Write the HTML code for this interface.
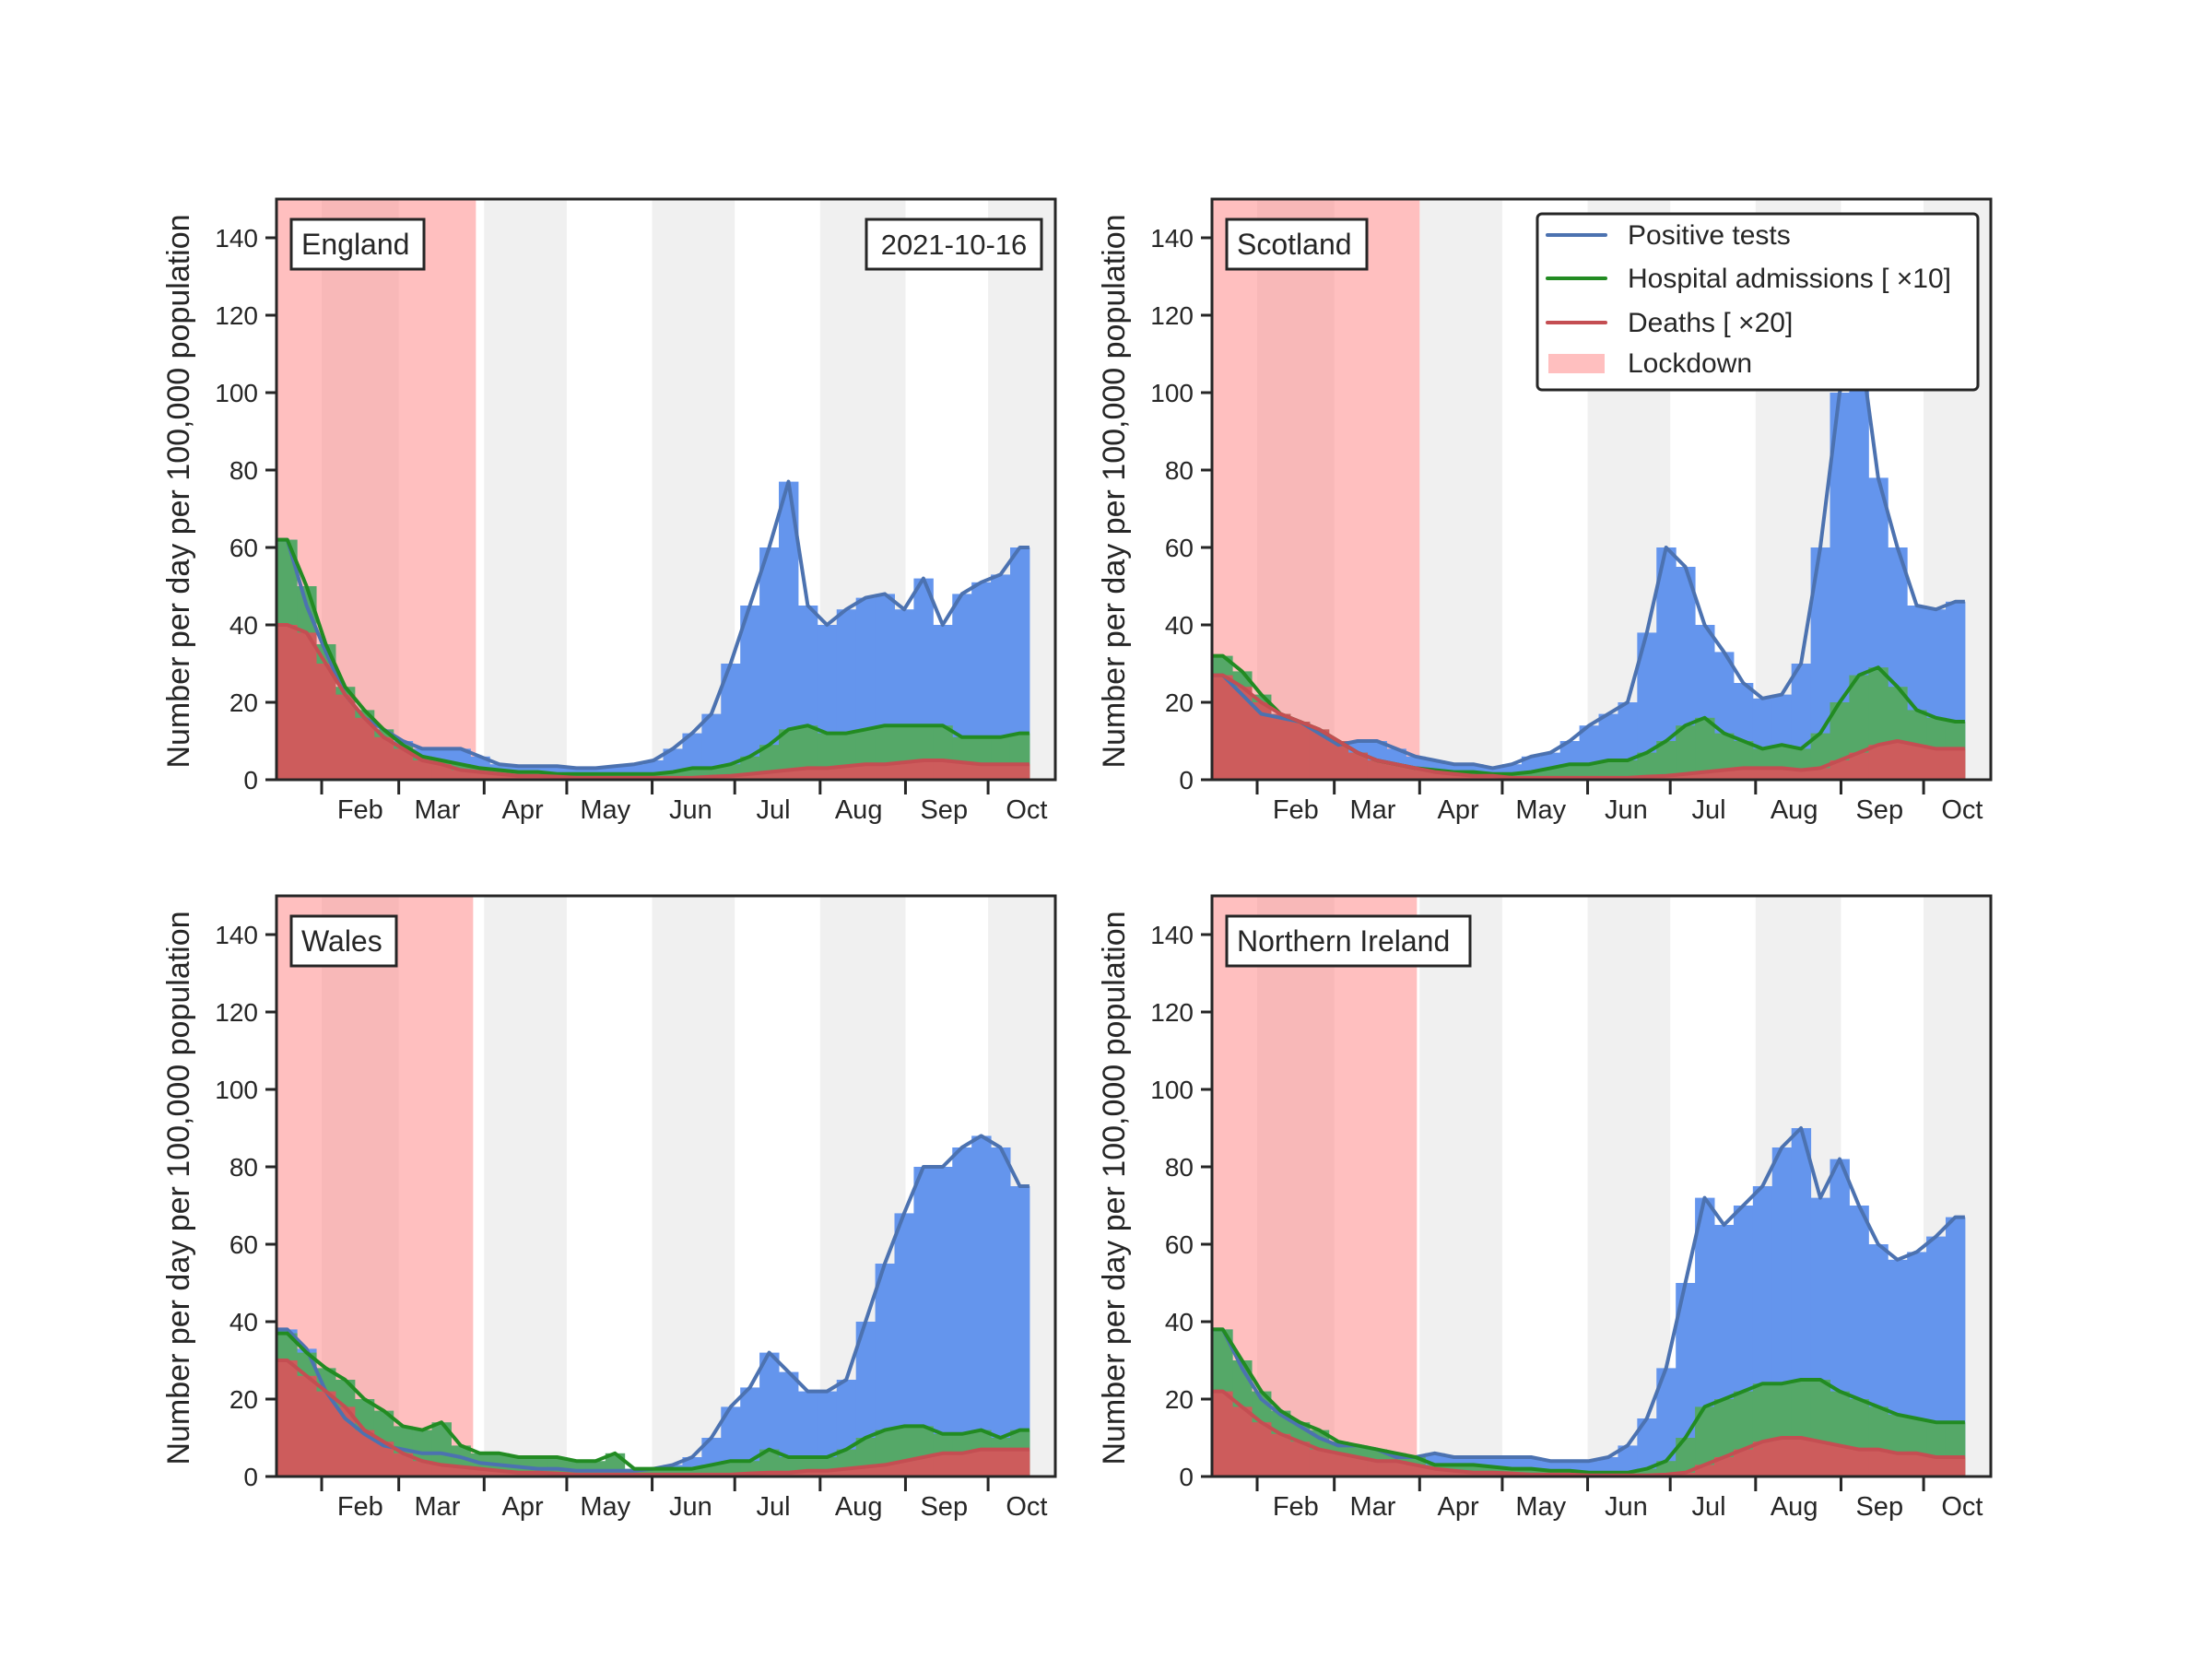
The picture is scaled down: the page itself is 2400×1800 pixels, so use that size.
<!DOCTYPE html>
<html><head><meta charset="utf-8"><style>
html,body{margin:0;padding:0;background:#fff;}
svg{display:block;font-family:"Liberation Sans",Arial,sans-serif;}
</style></head><body>
<svg id="fig" width="2400" height="1800" viewBox="0 0 2400 1800" xmlns="http://www.w3.org/2000/svg"></svg>
<script>
// Weekly values (week centres from 18 Jan 2021, 7-day steps), per 100,000 per day
const weekStartDay = 15; // day-of-year of first data point (15 Jan 2021)
const lastDay = 288;     // 16 Oct 2021
const monthTicks = [31, 59, 90, 120, 151, 181, 212, 243, 273];
const monthLabels = ["Feb","Mar","Apr","May","Jun","Jul","Aug","Sep","Oct"];
const yTicks = [0,20,40,60,80,100,120,140];

const englandTests = [62,45,33,22,16,13,10,8,8,8,6,4,3.5,3.5,3.5,3,3,3.5,4,5,8,12,17,30,45,60,77,45,40,44,47,48,44,52,40,48,51,53,60];
const englandHosp  = [62,50,35,24,18,13,9,6,5,4,3,2.5,2,2,1.5,1.5,1.5,1.5,1.5,1.5,2,3,3,4,6,9,13,14,12,12,13,14,14,14,14,11,11,11,12];
const englandDeaths= [40,38,30,22,16,11,8,5,4,2.5,2,1.5,1,1,0.8,0.5,0.5,0.5,0.5,0.5,0.5,0.5,0.8,1,1.5,2,2.5,3,3,3.5,4,4,4.5,5,5,4.5,4,4,4];

const scotlandTests = [27,22,17,16,15,12,9,10,10,8,6,5,4,4,3,4,6,7,10,14,17,20,38,60,55,40,33,25,21,22,30,60,100,115,78,60,45,44,46];
const scotlandHosp  = [32,28,22,17,15,13,10,7,5,4,3,2.5,2,2,1.5,1.5,2,3,4,4,5,5,7,10,14,16,12,10,8,9,8,12,20,27,29,24,18,16,15];
const scotlandDeaths= [27,24,20,17,15,13,10,7,5,4,3,2,1.5,1,1,0.5,0.5,0.5,0.5,0.5,0.5,0.5,0.8,1,1.5,2,2.5,3,3,3,2.5,3,5,7,9,10,9,8,8];

const walesTests = [38,33,22,15,11,8,7,6,6,5,3.5,3,2.5,2,2,1.5,1.5,1.5,1.5,2,3,5,10,18,23,32,27,22,22,25,40,55,68,80,80,85,88,85,75];
const walesHosp  = [37,32,28,25,20,17,13,12,14,8,6,6,5,5,5,4,4,6,2,2,2,2,3,4,4,7,5,5,5,7,10,12,13,13,11,11,12,10,12];
const walesDeaths= [30,26,22,18,12,9,6,4,3,2.5,2,1.5,1,1,0.8,0.5,0.5,0.5,0.5,0.5,0.5,0.5,0.5,0.5,0.8,1,1,1.5,1.5,2,2.5,3,4,5,6,6,7,7,7];

const niTests = [38,28,20,16,13,10,8,8,7,5,5,6,5,5,5,5,5,4,4,4,5,8,15,28,50,72,65,70,75,85,90,72,82,70,60,56,58,62,67];
const niHosp  = [38,30,22,17,14,12,9,8,7,6,5,3,3,3,2.5,2,2,1.5,1.5,1,1,1,2,4,10,18,20,22,24,24,25,25,22,20,18,16,15,14,14];
const niDeaths= [22,18,14,11,9,7,6,5,4,4,3,2,1.5,1,1,0.8,0.5,0.5,0.5,0.3,0.3,0.3,0.3,0.5,1,3,5,7,9,10,10,9,8,7,7,6,6,5,5];

const regionNames = ["England","Scotland","Wales","Northern Ireland"];
const lockdownEnd = [87, 90, 86, 89];

const NS="http://www.w3.org/2000/svg";
const svg=document.getElementById('fig');
const W=845,H=630,D0=14.6,D1=297.4,YMAX=150;
const panels=[
 {ox:300,oy:216,tests:englandTests,hosp:englandHosp,deaths:englandDeaths,key:"england",labW:144},
 {ox:1315,oy:216,tests:scotlandTests,hosp:scotlandHosp,deaths:scotlandDeaths,key:"scotland",labW:152},
 {ox:300,oy:972,tests:walesTests,hosp:walesHosp,deaths:walesDeaths,key:"wales",labW:114},
 {ox:1315,oy:972,tests:niTests,hosp:niHosp,deaths:niDeaths,key:"northern-ireland",labW:264}
];
function mk(tag,attrs,parent){const e=document.createElementNS(NS,tag);for(const k in attrs)e.setAttribute(k,attrs[k]);(parent||svg).appendChild(e);return e;}

panels.forEach((p,pi)=>{
  const xs=d=>p.ox+(d-D0)/(D1-D0)*W;
  const ys=v=>p.oy+H-Math.min(v,YMAX+5)/YMAX*H;
  const g=mk('g',{});
  
  
  const cid='clip'+pi;
  const cp=mk('clipPath',{id:cid},g);mk('rect',{x:p.ox,y:p.oy,width:W,height:H},cp);
  const plot=mk('g',{'clip-path':'url(#'+cid+')'},g);
  [[31,59],[90,120],[151,181],[212,243],[273,304]].forEach(b=>{
    const r=mk('rect',{x:xs(b[0]),y:p.oy,width:xs(b[1])-xs(b[0]),height:H,fill:'#f0f0f0'},plot);
    
    
  });
  const ld=mk('rect',{x:xs(D0),y:p.oy,width:xs(lockdownEnd[pi])-xs(D0),height:H,fill:'#ff8080','fill-opacity':0.5},plot);
  
  
  const series=[[p.tests,'#6495ed','#4c72b0','tests'],[p.hosp,'#55a868','#228b22','hospital'],[p.deaths,'#cd5c5c','#c44e52','deaths']];
  series.forEach(s=>{
    s[0].forEach((v,i)=>{
      const d0=weekStartDay+7*i, d1=Math.min(d0+7,lastDay+1);
      const r=mk('rect',{x:xs(d0),y:ys(v),width:xs(d1)-xs(d0)+0.5,height:p.oy+H-ys(v),fill:s[1]},plot);
      
      
    });
  });
  series.forEach(s=>{
    const pts=[[weekStartDay,s[0][0]]];
    s[0].forEach((v,i)=>pts.push([weekStartDay+3.5+7*i,v]));
    pts.push([lastDay,s[0][s[0].length-1]]);
    const pl=mk('polyline',{points:pts.map(q=>xs(q[0]).toFixed(1)+','+ys(q[1]).toFixed(1)).join(' '),fill:'none',stroke:s[2],'stroke-width':4,'stroke-linejoin':'round'},plot);
    
    
  });
  const fr=mk('rect',{x:p.ox,y:p.oy,width:W,height:H,fill:'none',stroke:'#262626','stroke-width':3},g);
  
  
  yTicks.forEach(t=>{
    const y=ys(t);
    mk('line',{x1:p.ox-12,x2:p.ox,y1:y,y2:y,stroke:'#262626','stroke-width':3},g);
    const tx=mk('text',{x:p.ox-20,y:y+10,'text-anchor':'end','font-size':28,fill:'#262626'},g);
    tx.textContent=t;
    
    
  });
  const yl=mk('text',{x:0,y:0,transform:`translate(${p.ox-95},${p.oy+H/2+2}) rotate(-90)`,'text-anchor':'middle','font-size':34,fill:'#262626'},g);
  yl.textContent='Number per day per 100,000 population';
  
  
  monthTicks.forEach((d,i)=>{
    const x=xs(d);
    mk('line',{x1:x,x2:x,y1:p.oy+H,y2:p.oy+H+16,stroke:'#262626','stroke-width':3},g);
    const tx=mk('text',{x:xs(d+14),y:p.oy+H+42,'text-anchor':'middle','font-size':29,fill:'#262626'},g);
    tx.textContent=monthLabels[i];
    
    
  });
  const lb=mk('g',{},g);
  
  
  mk('rect',{x:p.ox+16,y:p.oy+22,width:p.labW,height:54,fill:'#fff',stroke:'#262626','stroke-width':3},lb);
  const lt=mk('text',{x:p.ox+27,y:p.oy+60,'font-size':32,fill:'#262626'},lb);
  lt.textContent=regionNames[pi];
});
const dg=mk('g',{});


mk('rect',{x:940,y:238,width:190,height:54,fill:'#fff',stroke:'#262626','stroke-width':3},dg);
const dt=mk('text',{x:1035,y:276,'text-anchor':'middle','font-size':31,fill:'#262626'},dg);dt.textContent='2021-10-16';
const lg=mk('g',{});


mk('rect',{x:1668,y:232,width:478,height:191,rx:5,fill:'#fff',stroke:'#262626','stroke-width':3},lg);
[['Positive tests','#4c72b0',255],['Hospital admissions [ \u00d710]','#228b22',302],['Deaths [ \u00d720]','#c44e52',350]].forEach(e=>{
  const eg=mk('g',{},lg);
  
  
  mk('line',{x1:1679,x2:1742,y1:e[2],y2:e[2],stroke:e[1],'stroke-width':4,'stroke-linecap':'round'},eg);
  const t=mk('text',{x:1766,y:e[2]+10,'font-size':30,fill:'#262626'},eg);t.textContent=e[0];
});
const eg=mk('g',{},lg);


mk('rect',{x:1680,y:384,width:61,height:21,fill:'#ffbfbf'},eg);
const lt=mk('text',{x:1766,y:404,'font-size':30,fill:'#262626'},eg);lt.textContent='Lockdown';
</script>
</body></html>
